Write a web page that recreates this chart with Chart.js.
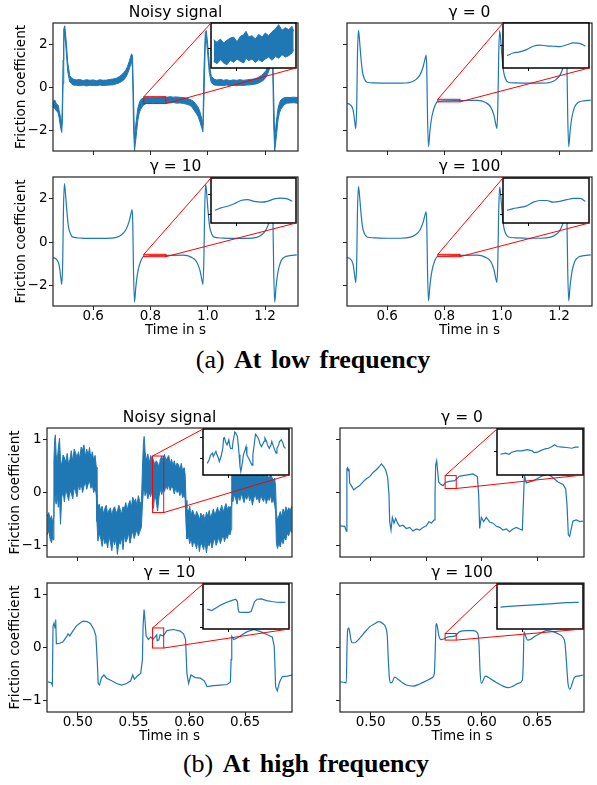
<!DOCTYPE html>
<html>
<head>
<meta charset="utf-8">
<script src="https://cdn.jsdelivr.net/npm/chart.js@4.4.1/dist/chart.umd.min.js"></script>
<style>
html, body { margin: 0; padding: 0; background: #fff; }
#stage { position: relative; width: 597px; height: 785px; overflow: hidden; background: #fff; }
#stage canvas { position: absolute; }
.caption { position: absolute; font-family: 'Liberation Serif', 'Times New Roman', serif; font-size: 26px; line-height: 26px; white-space: nowrap; transform: translateX(-50%); color: #000; word-spacing: 3px; }
</style>
</head>
<body>
<div id="stage"></div>
<script>
// ---------- (a) low frequency ----------
const xTicksA = [0.6, 0.8, 1.0, 1.2];
const yTicksA = [-2, 0, 2];

const noisyTimeA = [0.4602, 0.4660, 0.4719, 0.4777, 0.4812, 0.4870, 0.4905, 0.4928, 0.4952, 0.4975,
  0.5010, 0.5056, 0.5115, 0.5185, 0.5255, 0.5301, 0.5418, 0.5534, 0.5651, 0.5767,
  0.5884, 0.6000, 0.6116, 0.6233, 0.6349, 0.6466, 0.6582, 0.6699, 0.6815, 0.6909,
  0.6990, 0.7072, 0.7142, 0.7200, 0.7258, 0.7305, 0.7340, 0.7375, 0.7409, 0.7444,
  0.7491, 0.7561, 0.7608, 0.7654, 0.7747, 0.7864, 0.7980, 0.8097, 0.8213, 0.8330,
  0.8446, 0.8563, 0.8679, 0.8796, 0.8912, 0.9028, 0.9145, 0.9261, 0.9355, 0.9436,
  0.9518, 0.9611, 0.9669, 0.9727, 0.9797, 0.9832, 0.9867, 0.9914, 0.9949, 0.9996,
  1.0054, 1.0124, 1.0228, 1.0310, 1.0461, 1.0543, 1.0659, 1.0776, 1.0892, 1.1009,
  1.1125, 1.1242, 1.1358, 1.1475, 1.1591, 1.1708, 1.1801, 1.1882, 1.1964, 1.2034,
  1.2092, 1.2150, 1.2232, 1.2267, 1.2302, 1.2337, 1.2384, 1.2453, 1.2500, 1.2547,
  1.2663, 1.2756, 1.2873, 1.2989, 1.3141];
const noisyHighA = [-0.65, -0.57, -0.76, -0.81, -1.04, -1.43, -1.69, -0.57, 1.29, 2.71,
  2.87, 2.25, 1.16, 0.55, 0.44, 0.40, 0.36, 0.38, 0.33, 0.37,
  0.34, 0.36, 0.32, 0.37, 0.34, 0.35, 0.38, 0.40, 0.44, 0.51,
  0.59, 0.70, 0.82, 0.98, 1.21, 1.41, 1.57, 1.47, -0.34, -2.43,
  -1.69, -0.96, -0.73, -0.57, -0.48, -0.45, -0.47, -0.44, -0.46, -0.45,
  -0.43, -0.45, -0.42, -0.44, -0.43, -0.45, -0.46, -0.49, -0.53, -0.58,
  -0.65, -0.81, -0.91, -1.12, -1.47, -1.74, 0.82, 2.56, 2.65, 2.06,
  1.10, 0.52, 0.40, 0.36, 0.38, 0.34, 0.37, 0.33, 0.36, 0.34,
  0.37, 0.34, 0.36, 0.38, 0.40, 0.44, 0.51, 0.57, 0.68, 0.80,
  0.98, 1.21, 1.57, 1.47, -0.34, -2.43, -1.69, -0.96, -0.73, -0.57,
  -0.47, -0.45, -0.46, -0.44, -0.46];
const noisyLowA = [-0.91, -0.96, -1.07, -1.16, -1.38, -1.89, -2.08, -1.50, 0.20, 2.06,
  2.56, 1.78, 0.74, 0.26, 0.17, 0.12, 0.11, 0.09, 0.12, 0.08,
  0.11, 0.10, 0.09, 0.12, 0.10, 0.11, 0.12, 0.13, 0.18, 0.22,
  0.28, 0.36, 0.48, 0.64, 0.85, 1.05, 1.21, 0.90, -1.74, -2.93,
  -2.40, -1.50, -1.19, -1.01, -0.82, -0.72, -0.74, -0.70, -0.73, -0.71,
  -0.72, -0.70, -0.71, -0.69, -0.72, -0.71, -0.73, -0.77, -0.81, -0.88,
  -1.04, -1.22, -1.35, -1.58, -1.89, -2.05, -0.57, 1.98, 2.34, 1.60,
  0.70, 0.23, 0.12, 0.11, 0.10, 0.09, 0.12, 0.10, 0.11, 0.09,
  0.11, 0.10, 0.12, 0.13, 0.15, 0.18, 0.23, 0.29, 0.37, 0.49,
  0.64, 0.85, 1.21, 0.90, -1.74, -2.93, -2.40, -1.50, -1.19, -1.01,
  -0.80, -0.72, -0.71, -0.70, -0.72];

const timeA = [0.4602, 0.4719, 0.4812, 0.4870, 0.4905, 0.4940, 0.4963, 0.4998, 0.5033, 0.5080,
  0.5138, 0.5208, 0.5301, 0.5534, 0.6000, 0.6466, 0.6815, 0.6990, 0.7142, 0.7258,
  0.7328, 0.7363, 0.7386, 0.7409, 0.7444, 0.7491, 0.7561, 0.7654, 0.7770, 0.7980,
  0.8563, 0.9145, 0.9436, 0.9611, 0.9727, 0.9797, 0.9832, 0.9867, 0.9891, 0.9926,
  0.9961, 1.0007, 1.0065, 1.0135, 1.0228, 1.0461, 1.0892, 1.1358, 1.1708, 1.1882,
  1.2034, 1.2150, 1.2220, 1.2255, 1.2279, 1.2302, 1.2337, 1.2384, 1.2453, 1.2547,
  1.2663, 1.2873, 1.3106];
const gamma0A = [-0.72, -0.80, -1.03, -1.58, -1.90, -0.80, 1.33, 2.67, 2.27, 1.48,
  0.74, 0.40, 0.25, 0.22, 0.21, 0.21, 0.25, 0.36, 0.58, 0.97,
  1.36, 1.51, 0.74, -1.27, -2.74, -2.05, -1.35, -0.89, -0.64, -0.61,
  -0.60, -0.59, -0.69, -0.89, -1.27, -1.73, -1.90, -0.66, 1.33, 2.65,
  2.27, 1.48, 0.74, 0.40, 0.25, 0.22, 0.21, 0.21, 0.25, 0.36,
  0.58, 0.97, 1.36, 1.51, 0.74, -1.27, -2.74, -2.05, -1.35, -0.89,
  -0.69, -0.61, -0.58];
const gamma10A = [-0.71, -0.79, -1.05, -1.60, -1.94, -0.82, 1.35, 2.70, 2.28, 1.50,
  0.73, 0.39, 0.23, 0.19, 0.17, 0.17, 0.22, 0.34, 0.57, 0.96,
  1.35, 1.50, 0.73, -1.29, -2.76, -2.06, -1.36, -0.90, -0.65, -0.625,
  -0.61, -0.60, -0.70, -0.90, -1.29, -1.75, -1.94, -0.67, 1.35, 2.67,
  2.28, 1.50, 0.73, 0.39, 0.23, 0.19, 0.17, 0.17, 0.22, 0.34,
  0.57, 0.96, 1.35, 1.50, 0.73, -1.29, -2.76, -2.06, -1.36, -0.90,
  -0.70, -0.62, -0.59];
const gamma100A = [-0.70, -0.78, -1.02, -1.55, -1.86, -0.85, 1.25, 2.56, 2.22, 1.47,
  0.74, 0.40, 0.24, 0.20, 0.18, 0.18, 0.23, 0.34, 0.55, 0.92,
  1.28, 1.40, 0.70, -1.25, -2.71, -2.04, -1.35, -0.89, -0.65, -0.63,
  -0.61, -0.60, -0.70, -0.88, -1.26, -1.70, -1.86, -0.70, 1.25, 2.54,
  2.22, 1.47, 0.74, 0.40, 0.24, 0.20, 0.18, 0.18, 0.23, 0.34,
  0.55, 0.92, 1.28, 1.40, 0.70, -1.25, -2.71, -2.04, -1.35, -0.89,
  -0.70, -0.62, -0.59];

// zoom windows [xmin, xmax, ymin, ymax]
const zoomNoisyA = [0.777, 0.854, -0.74, -0.42];
const zoomGamma0A = [0.777, 0.854, -0.66, -0.54];
const zoomGamma10A = [0.777, 0.854, -0.67, -0.56];
const zoomGamma100A = [0.777, 0.854, -0.67, -0.56];

const insetNoisyTimeA = [0.7794, 0.7824, 0.7855, 0.7885, 0.7915, 0.7945, 0.7975, 0.8006, 0.8036, 0.8066,
  0.8087, 0.8111, 0.8141, 0.8172, 0.8202, 0.8232, 0.8262, 0.8292, 0.8323, 0.8353,
  0.8383, 0.8413, 0.8443, 0.8474, 0.8504, 0.8519];
const insetNoisyHighA = [-0.539, -0.557, -0.534, -0.562, -0.543, -0.527, -0.520, -0.553, -0.515, -0.503,
  -0.479, -0.520, -0.510, -0.534, -0.501, -0.520, -0.491, -0.510, -0.482, -0.463,
  -0.432, -0.472, -0.453, -0.467, -0.444, -0.479];
const insetNoisyLowA = [-0.693, -0.709, -0.681, -0.704, -0.716, -0.685, -0.700, -0.676, -0.693, -0.704,
  -0.671, -0.688, -0.676, -0.700, -0.681, -0.695, -0.676, -0.662, -0.685, -0.657,
  -0.671, -0.645, -0.662, -0.652, -0.633, -0.610];
const insetTimeA = [0.7806, 0.7860, 0.7920, 0.7981, 0.8041, 0.8101, 0.8161, 0.8221, 0.8281, 0.8342, 0.8402, 0.8462, 0.8507];
const insetGamma0A = [-0.627, -0.620, -0.617, -0.611, -0.602, -0.599, -0.601, -0.602, -0.603, -0.598, -0.593, -0.595, -0.602];
const insetGamma10A = [-0.639, -0.633, -0.629, -0.623, -0.615, -0.613, -0.617, -0.619, -0.617, -0.611, -0.609, -0.611, -0.617];
const insetGamma100A = [-0.639, -0.635, -0.632, -0.628, -0.619, -0.615, -0.615, -0.619, -0.617, -0.613, -0.610, -0.610, -0.617];

// ---------- (b) high frequency ----------
const xTicksB = [0.50, 0.55, 0.60, 0.65];
const yTicksB = [-1, 0, 1];

const noisyTimeB = [0.4726, 0.4740, 0.4752, 0.4764, 0.4776, 0.4783,
  0.4786, 0.4792, 0.4799, 0.4806, 0.4815, 0.4825, 0.4836, 0.4845, 0.4856, 0.4868,
  0.4880, 0.4892, 0.4905, 0.4918, 0.4930, 0.4942, 0.4955, 0.4968, 0.4980, 0.4993,
  0.5006, 0.5018, 0.5030, 0.5043, 0.5055, 0.5068, 0.5080, 0.5093, 0.5105, 0.5118,
  0.5130, 0.5143, 0.5155, 0.5166,
  0.5172, 0.5180, 0.5192, 0.5205, 0.5218, 0.5230, 0.5243, 0.5255, 0.5268, 0.5280,
  0.5293, 0.5305, 0.5318, 0.5330, 0.5343, 0.5355, 0.5368, 0.5380, 0.5393, 0.5405,
  0.5418, 0.5430, 0.5443, 0.5455, 0.5468, 0.5480, 0.5493, 0.5505, 0.5518, 0.5530,
  0.5543, 0.5555, 0.5570,
  0.5580, 0.5588, 0.5595, 0.5603, 0.5615, 0.5628, 0.5640, 0.5653, 0.5665, 0.5678,
  0.5690, 0.5703, 0.5715, 0.5728, 0.5740, 0.5753, 0.5765, 0.5778, 0.5790, 0.5803,
  0.5815, 0.5828, 0.5840, 0.5853, 0.5865, 0.5878, 0.5890, 0.5903, 0.5915, 0.5928,
  0.5940, 0.5953, 0.5962,
  0.5970, 0.5978, 0.5990, 0.6003, 0.6015, 0.6028, 0.6040, 0.6053, 0.6065, 0.6078,
  0.6090, 0.6103, 0.6115, 0.6128, 0.6140, 0.6153, 0.6165, 0.6178, 0.6190, 0.6203,
  0.6215, 0.6228, 0.6240, 0.6253, 0.6265, 0.6278, 0.6290, 0.6303, 0.6315, 0.6328,
  0.6340, 0.6353, 0.6365, 0.6375,
  0.6380, 0.6390, 0.6403, 0.6415, 0.6428, 0.6440, 0.6453, 0.6465, 0.6478, 0.6490,
  0.6503, 0.6515, 0.6528, 0.6540, 0.6553, 0.6565, 0.6578, 0.6590, 0.6603, 0.6615,
  0.6628, 0.6640, 0.6653, 0.6665, 0.6678, 0.6690, 0.6703, 0.6715, 0.6728, 0.6740,
  0.6753, 0.6765, 0.6773,
  0.6780, 0.6790, 0.6803, 0.6815, 0.6828, 0.6840, 0.6853, 0.6865, 0.6878, 0.6890,
  0.6905, 0.6918];
const noisyHighB = [-0.45, -0.38, -0.52, -0.44, -0.58, -0.47,
  0.60, 0.98, 1.09, 0.72, 0.58, 0.83, 1.03, 0.62, 0.50, 0.71,
  0.66, 0.57, 0.74, 0.52, 0.63, 0.79, 0.58, 0.82, 0.75, 0.66,
  0.77, 0.63, 0.86, 0.80, 0.90, 0.68, 0.82, 0.70, 0.85, 0.64,
  0.77, 0.61, 0.70, 0.48,
  -0.10, -0.28, -0.22, -0.34, -0.26, -0.40, -0.30, -0.24, -0.42, -0.33,
  -0.29, -0.45, -0.31, -0.27, -0.38, -0.35, -0.24, -0.32, -0.41, -0.27,
  -0.30, -0.19, -0.33, -0.22, -0.15, -0.28, -0.09, -0.18, -0.12, -0.25,
  -0.06, -0.17, -0.22,
  0.50, 0.92, 1.06, 0.78, 0.60, 0.73, 0.55, 0.70, 0.64, 0.62,
  0.52, 0.60, 0.56, 0.48, 0.63, 0.69, 0.57, 0.72, 0.60, 0.66,
  0.70, 0.54, 0.63, 0.50, 0.60, 0.47, 0.56, 0.52, 0.43, 0.55,
  0.40, 0.47, 0.35,
  -0.15, -0.30, -0.38, -0.26, -0.44, -0.33, -0.40, -0.47, -0.36, -0.42,
  -0.52, -0.39, -0.46, -0.41, -0.55, -0.37, -0.45, -0.34, -0.48, -0.40,
  -0.31, -0.43, -0.36, -0.28, -0.39, -0.33, -0.24, -0.37, -0.29, -0.21,
  -0.32, -0.26, -0.30, -0.25,
  0.40, 0.47, 0.33, 0.42, 0.50, 0.37, 0.44, 0.39, 0.52, 0.36,
  0.45, 0.41, 0.34, 0.49, 0.43, 0.37, 0.46, 0.33, 0.40, 0.44,
  0.35, 0.30, 0.41, 0.36, 0.28, 0.38, 0.31, 0.26, 0.35, 0.29,
  0.22, 0.27, 0.10,
  -0.40, -0.52, -0.44, -0.36, -0.47, -0.31, -0.40, -0.27, -0.36, -0.29,
  -0.34, -0.26];
const noisyLowB = [-0.80, -0.72, -0.88, -0.95, -0.83, -0.90,
  -0.30, 0.02, -0.12, -0.22, 0.00, -0.28, -0.08, -0.60, -0.10, 0.03,
  -0.18, 0.06, -0.04, -0.15, 0.04, -0.02, -0.12, 0.10, 0.02, -0.08,
  0.14, 0.05, 0.18, 0.00, 0.12, 0.20, 0.06, 0.16, 0.22, 0.08,
  0.15, 0.00, 0.10, -0.05,
  -0.55, -0.92, -0.78, -0.86, -1.02, -0.84, -0.97, -0.90, -1.05, -0.82,
  -0.95, -1.10, -0.88, -0.99, -0.86, -1.17, -0.93, -0.98, -0.85, -1.08,
  -0.80, -0.94, -0.88, -0.76, -0.96, -0.83, -0.72, -0.87, -0.78, -0.70,
  -0.82, -0.74, -0.66,
  -0.20, 0.02, 0.10, -0.06, 0.04, -0.12, 0.00, -0.08, 0.05, -0.30,
  -0.02, -0.16, -0.35, -0.08, 0.06, -0.04, 0.10, 0.02, 0.13, 0.06,
  0.15, 0.04, 0.11, 0.08, -0.03, 0.09, 0.00, 0.04, -0.06, 0.03,
  -0.10, -0.04, -0.12,
  -0.60, -0.88, -0.80, -0.97, -0.86, -1.03, -0.91, -0.98, -1.06, -0.89,
  -1.12, -0.94, -1.00, -1.08, -0.93, -1.14, -0.96, -1.01, -0.90, -1.05,
  -0.94, -0.86, -1.00, -0.92, -0.84, -0.97, -0.88, -0.80, -0.93, -0.82,
  -0.87, -0.76, -0.80, -0.70,
  -0.10, -0.18, -0.04, -0.12, -0.22, -0.06, -0.15, -0.02, -0.10, -0.19,
  -0.07, -0.13, -0.01, -0.16, -0.08, -0.24, -0.11, -0.03, -0.14, -0.09,
  -0.20, -0.05, -0.12, -0.17, -0.07, -0.21, -0.10, -0.15, -0.06, -0.19,
  -0.13, -0.24, -0.35,
  -0.95, -1.06, -0.96, -1.03, -0.88, -0.97, -0.84, -0.90, -0.77, -0.82,
  -0.71, -0.76];

const timeB0 = [0.4727, 0.4766, 0.4781, 0.4786, 0.4793, 0.4799, 0.4805, 0.4811, 0.4826, 0.4847,
  0.4871, 0.4901, 0.4931, 0.4961, 0.4991, 0.5021, 0.5051, 0.5081, 0.5096, 0.5117,
  0.5135, 0.5153, 0.5165, 0.5171, 0.5183, 0.5195, 0.5210, 0.5225, 0.5243, 0.5261,
  0.5291, 0.5321, 0.5351, 0.5381, 0.5411, 0.5441, 0.5471, 0.5501, 0.5525, 0.5546,
  0.5570, 0.5579, 0.5585, 0.5594, 0.5603, 0.5612, 0.5627, 0.5651, 0.5675, 0.5696,
  0.5726, 0.5756, 0.5801, 0.5861, 0.5921, 0.5960, 0.5972, 0.5981, 0.5996, 0.6017,
  0.6041, 0.6071, 0.6101, 0.6131, 0.6161, 0.6191, 0.6221, 0.6251, 0.6281, 0.6311,
  0.6341, 0.6365, 0.6377, 0.6383, 0.6401, 0.6431, 0.6461, 0.6506, 0.6551, 0.6596,
  0.6641, 0.6686, 0.6731, 0.6755, 0.6767, 0.6779, 0.6791, 0.6806, 0.6821, 0.6851,
  0.6881, 0.6911];
const gamma0B = [-0.63, -0.64, -0.73, 0.45, 0.47, 0.41, 0.45, 0.18, 0.13, 0.05,
  0.09, 0.13, 0.20, 0.26, 0.30, 0.38, 0.43, 0.50, 0.54, 0.49,
  0.43, 0.28, -0.04, -0.55, -0.71, -0.47, -0.58, -0.49, -0.58, -0.64,
  -0.62, -0.68, -0.66, -0.73, -0.69, -0.71, -0.66, -0.63, -0.55, -0.58,
  -0.52, -0.04, 0.52, 0.60, 0.40, 0.20, 0.16, 0.13, 0.19, 0.205,
  0.215, 0.225, 0.31, 0.33, 0.35, 0.30, -0.04, -0.68, -0.47, -0.55,
  -0.47, -0.56, -0.58, -0.64, -0.66, -0.71, -0.69, -0.74, -0.69, -0.66,
  -0.69, -0.71, -0.04, 0.33, 0.18, 0.20, 0.22, 0.27, 0.32, 0.35,
  0.28, 0.20, 0.15, 0.07, -0.23, -0.80, -0.83, -0.68, -0.54, -0.52,
  -0.55, -0.54];

const timeB10 = [0.4733, 0.4763, 0.4772, 0.4778, 0.4787, 0.4796, 0.4802, 0.4808, 0.4838, 0.4868,
  0.4898, 0.4913, 0.4928, 0.4958, 0.4988, 0.5018, 0.5048, 0.5084, 0.5114, 0.5144,
  0.5162, 0.5174, 0.5183, 0.5195, 0.5213, 0.5234, 0.5258, 0.5303, 0.5348, 0.5393,
  0.5438, 0.5474, 0.5492, 0.5507, 0.5534, 0.5564, 0.5579, 0.5585, 0.5594, 0.5603,
  0.5612, 0.5633, 0.5654, 0.5672, 0.5708, 0.5711, 0.5726, 0.5738, 0.5768, 0.5798,
  0.5858, 0.5918, 0.5948, 0.5966, 0.5978, 0.5993, 0.6014, 0.6053, 0.6098, 0.6134,
  0.6158, 0.6218, 0.6278, 0.6338, 0.6368, 0.6374, 0.6380, 0.6398, 0.6428, 0.6473,
  0.6518, 0.6578, 0.6638, 0.6698, 0.6743, 0.6761, 0.6773, 0.6788, 0.6809, 0.6833,
  0.6878, 0.6923];
const gamma10B = [-0.65, -0.67, -0.71, 0.40, 0.46, 0.37, 0.53, 0.07, 0.08, 0.11,
  0.20, 0.26, 0.22, 0.32, 0.41, 0.46, 0.50, 0.49, 0.45, 0.34,
  0.22, -0.23, -0.68, -0.71, -0.57, -0.52, -0.58, -0.63, -0.68, -0.71,
  -0.68, -0.63, -0.52, -0.60, -0.54, -0.49, -0.23, 0.40, 0.72, 0.50,
  0.22, 0.15, 0.20, 0.15, 0.24, 0.13, 0.14, 0.24, 0.22, 0.32,
  0.34, 0.31, 0.26, 0.15, -0.49, -0.68, -0.52, -0.57, -0.58, -0.63,
  -0.74, -0.72, -0.71, -0.70, -0.65, -0.23, 0.21, 0.15, 0.18, 0.24,
  0.30, 0.34, 0.30, 0.24, 0.20, 0.02, -0.74, -0.82, -0.65, -0.55,
  -0.54, -0.52];

const timeB100 = [0.4727, 0.4766, 0.4781, 0.4787, 0.4793, 0.4802, 0.4811, 0.4820, 0.4835, 0.4856,
  0.4886, 0.4931, 0.4991, 0.5036, 0.5075, 0.5111, 0.5135, 0.5150, 0.5159, 0.5168,
  0.5180, 0.5195, 0.5216, 0.5240, 0.5276, 0.5321, 0.5381, 0.5441, 0.5501, 0.5555,
  0.5573, 0.5582, 0.5588, 0.5594, 0.5603, 0.5615, 0.5633, 0.5657, 0.5681, 0.5717,
  0.5756, 0.5801, 0.5861, 0.5921, 0.5960, 0.5975, 0.5984, 0.5996, 0.6011, 0.6032,
  0.6056, 0.6092, 0.6131, 0.6191, 0.6236, 0.6281, 0.6326, 0.6365, 0.6374, 0.6380,
  0.6392, 0.6413, 0.6437, 0.6476, 0.6521, 0.6581, 0.6641, 0.6695, 0.6731, 0.6749,
  0.6761, 0.6776, 0.6794, 0.6812, 0.6833, 0.6866, 0.6911];
const gamma100B = [-0.65, -0.66, -0.67, 0.01, 0.33, 0.37, 0.30, 0.17, 0.09, 0.09,
  0.14, 0.25, 0.39, 0.45, 0.49, 0.45, 0.38, 0.20, -0.24, -0.56,
  -0.67, -0.65, -0.56, -0.59, -0.65, -0.71, -0.73, -0.69, -0.63, -0.57,
  -0.49, 0.01, 0.42, 0.45, 0.36, 0.21, 0.15, 0.16, 0.19, 0.205,
  0.215, 0.30, 0.32, 0.32, 0.28, 0.08, -0.43, -0.68, -0.63, -0.54,
  -0.56, -0.61, -0.66, -0.73, -0.76, -0.73, -0.68, -0.62, -0.24, 0.30,
  0.23, 0.14, 0.15, 0.21, 0.26, 0.32, 0.30, 0.25, 0.19, 0.08,
  -0.24, -0.68, -0.79, -0.69, -0.57, -0.54, -0.52];

const zoomNoisyB = [0.567, 0.577, -0.38, 0.69];
const zoomGamma0B = [0.567, 0.577, 0.076, 0.32];
const zoomGamma10B = [0.567, 0.577, -0.01, 0.37];
const zoomGamma100B = [0.567, 0.577, 0.14, 0.265];

const insetNoisyTimeB = [0.5675, 0.5677, 0.5679, 0.5681, 0.5682, 0.5685, 0.5686, 0.5688, 0.5689, 0.5691,
  0.5693, 0.5694, 0.5695, 0.5696, 0.5698, 0.5700, 0.5701, 0.5702, 0.5704, 0.5705,
  0.5707, 0.5708, 0.5710, 0.5711, 0.5712, 0.5713, 0.5714, 0.5716, 0.5717, 0.5719,
  0.5720, 0.5721, 0.5723, 0.5724, 0.5725, 0.5727, 0.5728, 0.5730, 0.5731, 0.5733,
  0.5735, 0.5736, 0.5738, 0.5739, 0.5741, 0.5742, 0.5744, 0.5745, 0.5747, 0.5749,
  0.5750, 0.5752, 0.5754, 0.5755, 0.5756, 0.5758, 0.5759, 0.5761, 0.5763, 0.5764,
  0.5766];
const insetNoisyB = [-0.11, -0.03, 0.09, 0.13, 0.05, 0.17, 0.10, 0.01, -0.07, 0.05,
  0.24, 0.48, 0.49, 0.40, 0.32, 0.44, 0.32, 0.24, 0.23, 0.40,
  0.62, 0.60, 0.52, 0.32, 0.09, -0.18, -0.30, -0.07, 0.09, 0.21,
  0.28, 0.09, 0.01, -0.03, -0.07, -0.15, 0.09, 0.40, 0.57, 0.52,
  0.44, 0.36, 0.28, 0.32, 0.40, 0.48, 0.40, 0.32, 0.24, 0.32,
  0.40, 0.28, 0.17, 0.13, 0.24, 0.32, 0.40, 0.44, 0.36, 0.28,
  0.24];
const insetTimeB0 = [0.5674, 0.5680, 0.5684, 0.5687, 0.5693, 0.5699, 0.5705, 0.5711, 0.5713, 0.5717,
  0.5720, 0.5726, 0.5730, 0.5734, 0.5737, 0.5740, 0.5746, 0.5751, 0.5757, 0.5761, 0.5765];
const insetGamma0B = [0.186, 0.192, 0.186, 0.197, 0.204, 0.204, 0.210, 0.204, 0.195, 0.197,
  0.204, 0.215, 0.218, 0.227, 0.236, 0.227, 0.224, 0.222, 0.218, 0.224, 0.224];
const insetTimeB10 = [0.5675, 0.5680, 0.5686, 0.5691, 0.5697, 0.5703, 0.5708, 0.5710, 0.5711, 0.5712,
  0.5717, 0.5723, 0.5726, 0.5728, 0.5730, 0.5733, 0.5738, 0.5744, 0.5750, 0.5756, 0.5761, 0.5766];
const insetGamma10B = [0.158, 0.146, 0.172, 0.194, 0.214, 0.230, 0.241, 0.222, 0.152, 0.133,
  0.130, 0.130, 0.138, 0.180, 0.222, 0.241, 0.244, 0.230, 0.222, 0.216, 0.214, 0.216];
const insetTimeB100 = [0.5674, 0.5693, 0.5713, 0.5732, 0.5751, 0.5765];
const insetGamma100B = [0.201, 0.204, 0.207, 0.210, 0.213, 0.214];

// ---------- drawing ----------
const BLUE = '#1f77b4';
const FONT = 'DejaVu Sans';
Chart.defaults.font.family = FONT;
Chart.defaults.color = '#000';

const stage = document.getElementById('stage');

function addCanvas(left, top, w, h, z) {
  const c = document.createElement('canvas');
  c.width = w;
  c.height = h;
  c.style.left = left + 'px';
  c.style.top = top + 'px';
  c.style.width = w + 'px';
  c.style.height = h + 'px';
  c.style.zIndex = z;
  stage.appendChild(c);
  return c;
}

const pts = (xs, ys) => xs.map((x, i) => ({x: x, y: ys[i]}));

function line(xs, ys, width, smooth) {
  return {data: pts(xs, ys), borderColor: BLUE, borderWidth: width, pointRadius: 0, fill: false,
    tension: 0, cubicInterpolationMode: smooth ? 'monotone' : 'default'};
}

// noisy traces: filled between the upper and lower envelope
function band(xs, hi, lo) {
  return [
    {data: pts(xs, lo), borderColor: BLUE, borderWidth: 1, pointRadius: 0, fill: false},
    {data: pts(xs, hi), borderColor: BLUE, borderWidth: 1, pointRadius: 0, fill: '-1', backgroundColor: BLUE}
  ];
}

const minus = v => String(v).replace('-', '\u2212');

const framePlugin = {
  id: 'frame',
  beforeDatasetsDraw(chart, args, opts) {
    if (!opts.fill) return;
    const a = chart.chartArea;
    chart.ctx.save();
    chart.ctx.fillStyle = '#fff';
    chart.ctx.fillRect(a.left, a.top, a.right - a.left, a.bottom - a.top);
    chart.ctx.restore();
  },
  afterDatasetsDraw(chart, args, opts) {
    const a = chart.chartArea, ctx = chart.ctx;
    ctx.save();
    ctx.strokeStyle = opts.color;
    ctx.lineWidth = opts.width;
    ctx.strokeRect(a.left, a.top, a.right - a.left, a.bottom - a.top);
    ctx.restore();
  }
};

const groupA = {xr: [0.46, 1.315], yr: [-2.94, 3.0], xt: xTicksA, yt: yTicksA, xd: 1, ytp: 13.4};
const groupB = {xr: [0.4724, 0.692], yr: [-1.22, 1.22], xt: xTicksB, yt: yTicksB, xd: 2, ytp: 7};

function mainPanel(g, p) {
  const [L, T, R, B] = p.box;
  const left = p.col === 0 ? 0 : L - 12;
  const yw = L - left;
  const xh = p.row === 1 ? 34 : 6;
  const top = T - 22;
  const w = R - left + 6, h = B - top + xh;
  const cv = addCanvas(left, top, w, h, 1);
  const chart = new Chart(cv, {
    type: 'line',
    data: {datasets: p.datasets},
    options: {
      responsive: false, animation: false, devicePixelRatio: 1, events: [],
      layout: {padding: {left: 0, right: 6, top: 0, bottom: 0}},
      plugins: {
        legend: {display: false}, tooltip: {enabled: false},
        title: {display: true, text: p.title, fullSize: false, color: '#000',
          font: {family: FONT, size: 15.5, weight: 'normal', lineHeight: '19px'}, padding: {top: 2, bottom: 1}},
        frame: {color: '#222', width: 1.2, fill: false}
      },
      scales: {
        x: {
          type: 'linear', min: g.xr[0], max: g.xr[1],
          afterBuildTicks: s => { s.ticks = g.xt.map(v => ({value: v})); },
          afterFit: s => { s.height = xh; s.paddingLeft = 0; s.paddingRight = 0; },
          grid: {drawOnChartArea: false, drawTicks: true, tickLength: 4, tickColor: '#222', tickWidth: 1},
          border: {display: false},
          ticks: {display: p.row === 1, color: '#000', padding: 0, maxRotation: 0, autoSkip: false,
            font: {size: 13.5, lineHeight: 1}, callback: v => v.toFixed(g.xd)},
          title: {display: p.row === 1, text: 'Time in s', color: '#000',
            font: {size: 13.5, lineHeight: 1.2}, padding: {top: 0, bottom: 1.4}}
        },
        y: {
          type: 'linear', min: g.yr[0], max: g.yr[1],
          afterBuildTicks: s => { s.ticks = g.yt.map(v => ({value: v})); },
          afterFit: s => { s.width = yw; s.paddingTop = 0; s.paddingBottom = 0; },
          grid: {drawOnChartArea: false, drawTicks: true, tickLength: 4, tickColor: '#222', tickWidth: 1},
          border: {display: false},
          ticks: {display: p.col === 0, color: '#000', padding: 1.5, font: {size: 13.5}, callback: v => minus(v)},
          title: {display: p.col === 0, text: 'Friction coefficient', color: '#000',
            font: {size: 13.5, lineHeight: 1.2}, padding: {top: g.ytp, bottom: 0}}
        }
      }
    },
    plugins: [framePlugin]
  });
  return {chart: chart, left: left, top: top};
}

function insetPanel(box, win, datasets) {
  const [L, T, R, B] = box;
  const left = L - 4, top = T - 2;
  const w = R - L + 6, h = B - T + 6;
  const cv = addCanvas(left, top, w, h, 3);
  const chart = new Chart(cv, {
    type: 'line',
    data: {datasets: datasets},
    options: {
      responsive: false, animation: false, devicePixelRatio: 1, events: [],
      layout: {padding: {left: 0, right: 2, top: 2, bottom: 0}},
      plugins: {legend: {display: false}, tooltip: {enabled: false}, title: {display: false},
        frame: {color: '#000', width: 1.5, fill: true}},
      scales: {
        x: {type: 'linear', min: win[0], max: win[1],
          afterFit: s => { s.height = 4; s.paddingLeft = 0; s.paddingRight = 0; },
          grid: {drawOnChartArea: false, tickLength: 3, tickColor: '#000'}, border: {display: false},
          ticks: {display: false, maxTicksLimit: 3, includeBounds: false}},
        y: {type: 'linear', min: win[2], max: win[3],
          afterFit: s => { s.width = 4; s.paddingTop = 0; s.paddingBottom = 0; },
          grid: {drawOnChartArea: false, tickLength: 3, tickColor: '#000'}, border: {display: false},
          ticks: {display: false, maxTicksLimit: 4, includeBounds: false}}
      }
    },
    plugins: [framePlugin]
  });
  return {chart: chart, left: left, top: top};
}

const panels = [
  {g: groupA, box: [53, 23, 298, 151], row: 0, col: 0, title: 'Noisy signal',
   datasets: band(noisyTimeA, noisyHighA, noisyLowA),
   inset: [211, 23, 296, 68], win: zoomNoisyA,
   insetData: band(insetNoisyTimeA, insetNoisyHighA, insetNoisyLowA)},
  {g: groupA, box: [347, 23, 592, 151], row: 0, col: 1, title: '\u03b3 = 0',
   datasets: [line(timeA, gamma0A, 1.2, true)],
   inset: [503, 23, 589, 68], win: zoomGamma0A,
   insetData: [line(insetTimeA, insetGamma0A, 1.2, true)]},
  {g: groupA, box: [53, 177, 298, 306], row: 1, col: 0, title: '\u03b3 = 10',
   datasets: [line(timeA, gamma10A, 1.2, true)],
   inset: [211, 178, 296, 223], win: zoomGamma10A,
   insetData: [line(insetTimeA, insetGamma10A, 1.2, true)]},
  {g: groupA, box: [347, 177, 592, 306], row: 1, col: 1, title: '\u03b3 = 100',
   datasets: [line(timeA, gamma100A, 1.2, true)],
   inset: [503, 178, 589, 223], win: zoomGamma100A,
   insetData: [line(insetTimeA, insetGamma100A, 1.2, true)]},
  {g: groupB, box: [47, 428, 292, 557], row: 0, col: 0, title: 'Noisy signal',
   datasets: band(noisyTimeB, noisyHighB, noisyLowB),
   inset: [203, 429, 289, 475], win: zoomNoisyB,
   insetData: [line(insetNoisyTimeB, insetNoisyB, 1.2, false)]},
  {g: groupB, box: [340, 428, 584, 557], row: 0, col: 1, title: '\u03b3 = 0',
   datasets: [line(timeB0, gamma0B, 1.2, false)],
   inset: [497, 429, 583, 475], win: zoomGamma0B,
   insetData: [line(insetTimeB0, insetGamma0B, 1.2, false)]},
  {g: groupB, box: [47, 583, 292, 712], row: 1, col: 0, title: '\u03b3 = 10',
   datasets: [line(timeB10, gamma10B, 1.2, false)],
   inset: [203, 584, 289, 629], win: zoomGamma10B,
   insetData: [line(insetTimeB10, insetGamma10B, 1.2, false)]},
  {g: groupB, box: [340, 583, 584, 712], row: 1, col: 1, title: '\u03b3 = 100',
   datasets: [line(timeB100, gamma100B, 1.2, true)],
   inset: [497, 584, 583, 629], win: zoomGamma100B,
   insetData: [line(insetTimeB100, insetGamma100B, 1.2, true)]}
];

const built = panels.map(p => ({p: p, main: mainPanel(p.g, p)}));
built.forEach(b => { b.inset = insetPanel(b.p.inset, b.p.win, b.p.insetData); });

// zoom rectangles and connector lines
const overlay = addCanvas(0, 0, 597, 785, 5);
const octx = overlay.getContext('2d');
octx.strokeStyle = '#ff0000';
octx.lineWidth = 1;
built.forEach(b => {
  const win = b.p.win;
  const xs = b.main.chart.scales.x, ys = b.main.chart.scales.y;
  const x0 = b.main.left + xs.getPixelForValue(win[0]);
  const x1 = b.main.left + xs.getPixelForValue(win[1]);
  const y0 = b.main.top + ys.getPixelForValue(win[3]);
  const y1 = b.main.top + ys.getPixelForValue(win[2]);
  const a = b.inset.chart.chartArea;
  const ix0 = b.inset.left + a.left, iy0 = b.inset.top + a.top;
  const ix1 = b.inset.left + a.right, iy1 = b.inset.top + a.bottom;
  octx.strokeRect(x0, y0, x1 - x0, y1 - y0);
  octx.beginPath();
  octx.moveTo(x0, y0); octx.lineTo(ix0, iy0);
  octx.moveTo(x1, y1); octx.lineTo(ix1, iy1);
  octx.stroke();
});

// sub-captions
function caption(html, cx, top) {
  const d = document.createElement('div');
  d.className = 'caption';
  d.style.left = cx + 'px';
  d.style.top = top + 'px';
  d.innerHTML = html;
  stage.appendChild(d);
}
caption('(a) <b>At low frequency</b>', 313, 347);
caption('(b) <b>At high frequency</b>', 306, 751);
</script>
</body>
</html>
